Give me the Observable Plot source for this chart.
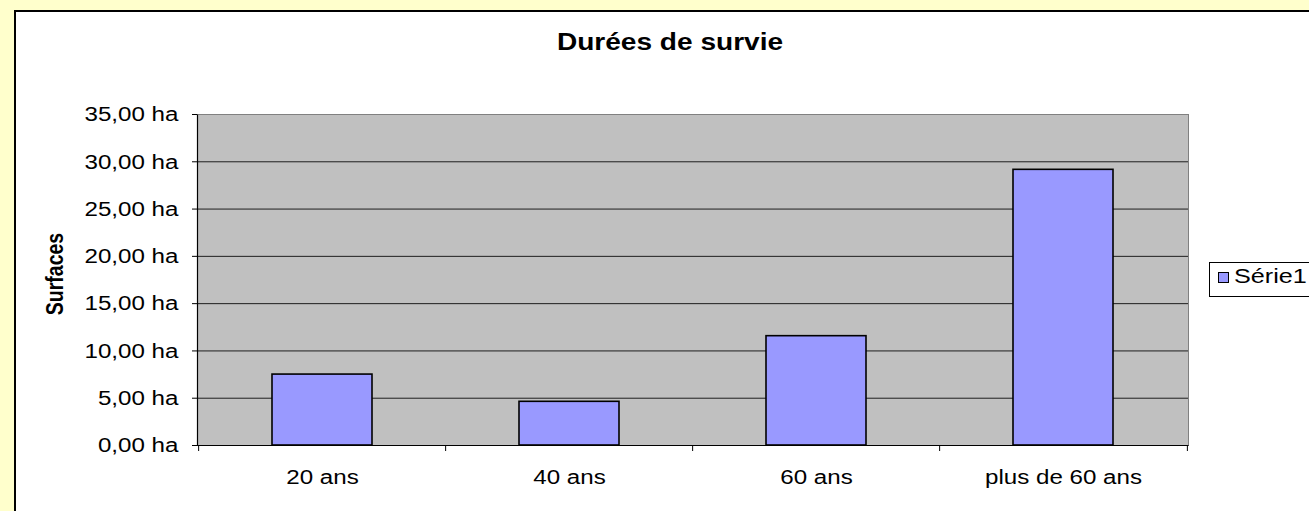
<!DOCTYPE html>
<html>
<head>
<meta charset="utf-8">
<script src="https://cdn.jsdelivr.net/npm/d3@7"></script>
<script src="https://cdn.jsdelivr.net/npm/@observablehq/plot@0.6"></script>
<style>
  html, body { margin: 0; padding: 0; }
  body { width: 1309px; height: 511px; overflow: hidden; background: #FFFFCC; position: relative;
         font-family: "Liberation Sans", Arial, sans-serif; color: #000; }
  #box { position: absolute; left: 14px; top: 10px; width: 1400px; height: 600px; border: 2px solid #000;
         background: #fff; box-sizing: border-box; }
  #chart { position: absolute; left: 0; top: 0; }
  #title { position: absolute; left: 670px; top: 31px; font-size: 23px; line-height: 23px; font-weight: bold;
           white-space: nowrap; transform: translateX(-50%) scaleX(1.22); }
  #ylabel { position: absolute; left: 55px; top: 274px; font-size: 19.5px; line-height: 19.5px; font-weight: bold;
            white-space: nowrap; transform: translate(-50%, -50%) rotate(-90deg) scaleY(1.2); }
  #legend { position: absolute; left: 1209px; top: 262px; width: 130px; height: 35px; border: 1px solid #000;
            background: #fff; box-sizing: border-box; }
  #legend .sw { position: absolute; left: 8px; top: 9px; width: 11px; height: 11px; border: 1px solid #000;
                background: #9999FF; box-sizing: border-box; }
  #legend .lb { position: absolute; left: 24px; top: 2px; font-size: 21px; line-height: 21px; white-space: nowrap;
                transform-origin: left center; transform: scaleX(1.2); }
</style>
</head>
<body>
<div id="box"></div>
<div id="chart"></div>
<div id="title">Durées de survie</div>
<div id="ylabel">Surfaces</div>
<div id="legend"><div class="sw"></div><div class="lb">Série1</div></div>
<script>
const categories = ["20 ans", "40 ans", "60 ans", "plus de 60 ans"];
const surfaces = [7.5, 4.62, 11.56, 29.15];
const yTicks = [0, 5, 10, 15, 20, 25, 30, 35];
const seriesName = "Série1";

const data = categories.map((c, i) => ({cat: c, val: surfaces[i]}));

const W = 1309, H = 511, ml = 197, mr = 121, mt = 114, mb = 66;
const fw = W - ml - mr, fh = H - mt - mb;
const step = fw / categories.length;

const plot = Plot.plot({
  width: W, height: H,
  marginLeft: ml, marginRight: mr, marginTop: mt, marginBottom: mb,
  style: {background: "transparent", fontFamily: "Liberation Sans, Arial, sans-serif", fontSize: "21px", color: "#000", overflow: "visible"},
  x: {domain: categories, paddingInner: 0.596, paddingOuter: 0.298, label: null},
  y: {domain: [0, 35], label: null},
  marks: [
    Plot.frame({fill: "#C0C0C0", stroke: "#808080"}),
    Plot.gridY(yTicks.filter(v => v > 0 && v < 35), {stroke: "#000", strokeOpacity: 0.85}),
    Plot.frame({stroke: "#000", strokeWidth: 1.2, strokeDasharray: `0 ${fw + fh} ${fw + fh}`}),
    Plot.barY(data, {x: "cat", y: "val", fill: "#9999FF", stroke: "#000", strokeWidth: 1.6}),
    Plot.axisY(yTicks, {tickSize: 5, tickPadding: 14, tickFormat: d => d.toFixed(2).replace(".", ",") + " ha", label: null}),
    Plot.axisX({tickSize: 0, tickPadding: 24, label: null}),
    Plot.ruleX(categories, {x: d => d, dx: -step / 2, insetTop: fh, insetBottom: -6, stroke: "#000"}),
    Plot.ruleX([categories[categories.length - 1]], {x: d => d, dx: step / 2, insetTop: fh, insetBottom: -6, stroke: "#000"})
  ]
});
document.getElementById("chart").appendChild(plot);
document.querySelector("#legend .lb").textContent = seriesName;

// horizontal stretch of tick labels to match the reference's wide lettering
const s = 1.15;
plot.querySelectorAll("text").forEach(t => {
  const b = t.getBBox();
  const anchor = getComputedStyle(t).textAnchor;
  const ax = anchor === "end" ? b.x + b.width : anchor === "middle" ? b.x + b.width / 2 : b.x;
  const tr = t.getAttribute("transform") || "";
  t.setAttribute("transform", `${tr} translate(${ax},0) scale(${s},1) translate(${-ax},0)`);
});
</script>
</body>
</html>
